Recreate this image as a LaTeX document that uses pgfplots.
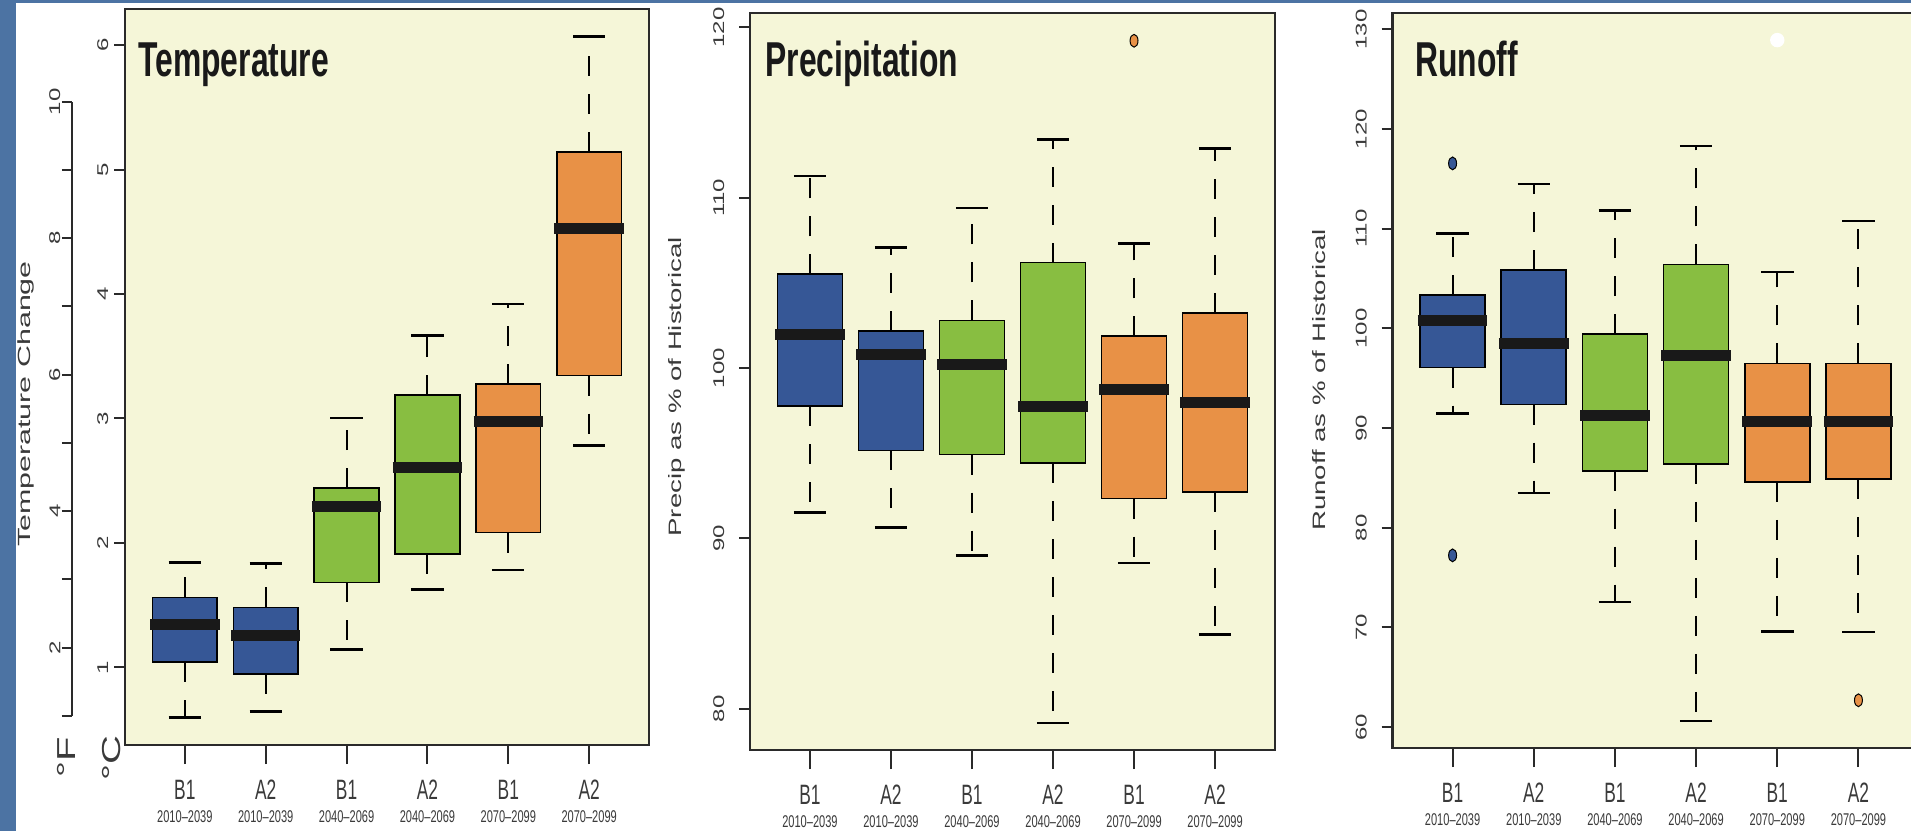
\documentclass[border=0pt]{standalone}
\usepackage{pgfplots}
\pgfplotsset{compat=1.18}
\usepgfplotslibrary{statistics}
\usepackage{fontspec}
\setmainfont{Liberation Sans}
\usepackage{graphicx}

\definecolor{bgblue}{HTML}{4C73A3}
\definecolor{panelbg}{HTML}{F5F6D8}
\definecolor{cblue}{HTML}{365796}
\definecolor{cgreen}{HTML}{88BE41}
\definecolor{corange}{HTML}{E89146}
\definecolor{labgray}{HTML}{3A3A3A}
\definecolor{framecol}{HTML}{2A2A2A}

\newcommand{\hx}[1]{\scalebox{0.65}[1]{#1}}
\newcommand{\vx}[1]{\scalebox{1}[0.65]{#1}}
\newcommand{\xl}[2]{\shortstack{\scalebox{0.62}[1]{\fontsize{14}{14}\selectfont #1}\\[2.5pt]\hx{\fontsize{8.5}{8.5}\selectfont #2}}}

\pgfplotsset{
  boxplot/draw direction=y,
  boxplot/draw/lower whisker/.code={%
    \draw[line width=1pt, black, dash pattern=on 10pt off 9pt]
      (boxplot cs:\pgfplotsboxplotvalue{lower quartile}) -- (boxplot cs:\pgfplotsboxplotvalue{lower whisker});
    \draw[line width=1.3pt, black, solid]
      (boxplot whisker cs:\pgfplotsboxplotvalue{lower whisker},0) -- (boxplot whisker cs:\pgfplotsboxplotvalue{lower whisker},1);
  },
  boxplot/draw/upper whisker/.code={%
    \draw[line width=1pt, black, dash pattern=on 10pt off 9pt]
      (boxplot cs:\pgfplotsboxplotvalue{upper quartile}) -- (boxplot cs:\pgfplotsboxplotvalue{upper whisker});
    \draw[line width=1.3pt, black, solid]
      (boxplot whisker cs:\pgfplotsboxplotvalue{upper whisker},0) -- (boxplot whisker cs:\pgfplotsboxplotvalue{upper whisker},1);
  },
  boxplot/every median/.style={line width=5.5pt, draw=black!90, solid, shorten <=-1.2pt, shorten >=-1.2pt},
  bstyle/.style={draw=black, solid, line width=0.8pt, mark=*, mark size=3.2pt,
    boxplot/draw direction=y,
    boxplot/every box/.append style={fill=#1, draw=black, line width=0.8pt},
    mark options={fill=#1, draw=black, line width=0.5pt, xscale=0.62, solid}},
  panel/.style={
    scale only axis, anchor=south west,
    axis background/.style={fill=panelbg},
    axis line style={line width=1.2pt, draw=framecol},
    xmin=0.26, xmax=6.74, xtick={1,...,6},
    xticklabels={{\xl{B1}{2010--2039}},{\xl{A2}{2010--2039}},{\xl{B1}{2040--2069}},{\xl{A2}{2040--2069}},{\xl{B1}{2070--2099}},{\xl{A2}{2070--2099}}},
    tick pos=left, tick align=outside,
    major tick length=5.5pt,
    xtick style={line width=1pt, draw=framecol, /pgfplots/major tick length=9.5pt},
    ytick style={line width=1pt, draw=framecol},
    xticklabel style={anchor=north, inner sep=0pt, text=labgray},
    xticklabel shift=12pt,
    /pgf/number format/assume math mode=true,
    yticklabel={\vx{\pgfmathprintnumber{\tick}}},
    yticklabel style={rotate=90, anchor=south, inner sep=0pt, text=labgray, font=\fontsize{12}{12}\selectfont},
  }
}

\begin{document}
\begin{tikzpicture}
\useasboundingbox (0,0) rectangle (955.5pt,415.5pt);
\fill[bgblue] (0,0) rectangle (955.5pt,415.5pt);
\fill[white] (8pt,0) rectangle (955.5pt,414pt);

% degrees F axis
\begin{axis}[
  at={(36pt,57.5pt)}, anchor=south west, scale only axis,
  width=5pt, height=307.15pt,
  xmin=0, xmax=1, ymin=1, ymax=10,
  axis x line=none, axis y line*=left,
  axis line style={line width=1pt, draw=framecol},
  ytick={1,...,10},
  yticklabels={,\vx{2},,\vx{4},,\vx{6},,\vx{8},,\vx{10}},
  tick align=outside, major tick length=5pt,
  ytick style={line width=1pt, draw=framecol},
  yticklabel style={rotate=90, anchor=south, inner sep=0pt, text=labgray, font=\fontsize{12}{12}\selectfont},
  yticklabel shift=0.6pt,
]
\end{axis}

% Temperature
\begin{axis}[panel, at={(62.5pt,43pt)}, width=262pt, height=368pt,
  ymin=0.376, ymax=6.291, ytick={1,...,6}, yticklabel shift=2.7pt]
\addplot[bstyle=cblue, boxplot prepared={draw position=1, lower whisker=0.595, lower quartile=1.043, median=1.341, upper quartile=1.563, upper whisker=1.844, box extend=0.8, whisker extend=0.4}] coordinates {};
\addplot[bstyle=cblue, boxplot prepared={draw position=2, lower whisker=0.646, lower quartile=0.949, median=1.256, upper quartile=1.482, upper whisker=1.835, box extend=0.8, whisker extend=0.4}] coordinates {};
\addplot[bstyle=cgreen, boxplot prepared={draw position=3, lower whisker=1.145, lower quartile=1.682, median=2.296, upper quartile=2.441, upper whisker=3.003, box extend=0.8, whisker extend=0.4}] coordinates {};
\addplot[bstyle=cgreen, boxplot prepared={draw position=4, lower whisker=1.627, lower quartile=1.912, median=2.607, upper quartile=3.187, upper whisker=3.668, box extend=0.8, whisker extend=0.4}] coordinates {};
\addplot[bstyle=corange, boxplot prepared={draw position=5, lower whisker=1.784, lower quartile=2.083, median=2.974, upper quartile=3.276, upper whisker=3.920, box extend=0.8, whisker extend=0.4}] coordinates {};
\addplot[bstyle=corange, boxplot prepared={draw position=6, lower whisker=2.782, lower quartile=3.344, median=4.525, upper quartile=5.143, upper whisker=6.072, box extend=0.8, whisker extend=0.4}] coordinates {};
\end{axis}

% Precipitation
\begin{axis}[panel, at={(375pt,40.5pt)}, width=262.5pt, height=368.5pt,
  ymin=77.58, ymax=120.85, ytick={80,90,...,120}, yticklabel shift=7.2pt]
\addplot[bstyle=cblue, boxplot prepared={draw position=1, lower whisker=91.53, lower quartile=97.76, median=101.96, upper quartile=105.51, upper whisker=111.28, box extend=0.8, whisker extend=0.4}] coordinates {};
\addplot[bstyle=cblue, boxplot prepared={draw position=2, lower whisker=90.65, lower quartile=95.17, median=100.81, upper quartile=102.18, upper whisker=107.07, box extend=0.8, whisker extend=0.4}] coordinates {};
\addplot[bstyle=cgreen, boxplot prepared={draw position=3, lower whisker=89.00, lower quartile=94.92, median=100.22, upper quartile=102.80, upper whisker=109.41, box extend=0.8, whisker extend=0.4}] coordinates {};
\addplot[bstyle=cgreen, boxplot prepared={draw position=4, lower whisker=79.16, lower quartile=94.42, median=97.76, upper quartile=106.20, upper whisker=113.43, box extend=0.8, whisker extend=0.4}] coordinates {};
\addplot[bstyle=corange, boxplot prepared={draw position=5, lower whisker=88.57, lower quartile=92.34, median=98.72, upper quartile=101.87, upper whisker=107.32, box extend=0.8, whisker extend=0.4}] coordinates {(0,119.22)};
\addplot[bstyle=corange, boxplot prepared={draw position=6, lower whisker=84.36, lower quartile=92.74, median=97.98, upper quartile=103.24, upper whisker=112.90, box extend=0.8, whisker extend=0.4}] coordinates {};
\end{axis}

% Runoff
\begin{axis}[panel, at={(696.25pt,41.5pt)}, width=263pt, height=367.5pt,
  ymin=57.9, ymax=131.65, ytick={60,70,...,130}, yticklabel shift=7.2pt]
\addplot[bstyle=cblue, boxplot prepared={draw position=1, lower whisker=91.45, lower quartile=96.07, median=100.80, upper quartile=103.34, upper whisker=109.55, box extend=0.8, whisker extend=0.4}] coordinates {(0,116.56) (0,77.23)};
\addplot[bstyle=cblue, boxplot prepared={draw position=2, lower whisker=83.49, lower quartile=92.36, median=98.46, upper quartile=105.84, upper whisker=114.49, box extend=0.8, whisker extend=0.4}] coordinates {};
\addplot[bstyle=cgreen, boxplot prepared={draw position=3, lower whisker=72.56, lower quartile=85.72, median=91.24, upper quartile=99.42, upper whisker=111.84, box extend=0.8, whisker extend=0.4}] coordinates {};
\addplot[bstyle=cgreen, boxplot prepared={draw position=4, lower whisker=60.62, lower quartile=86.41, median=97.24, upper quartile=106.42, upper whisker=118.31, box extend=0.8, whisker extend=0.4}] coordinates {};
\addplot[bstyle=corange, boxplot prepared={draw position=5, lower whisker=69.59, lower quartile=84.61, median=90.66, upper quartile=96.50, upper whisker=105.68, box extend=0.8, whisker extend=0.4}, mark options={fill=white, draw=white}] coordinates {(0,128.93)};
\addplot[bstyle=corange, boxplot prepared={draw position=6, lower whisker=69.53, lower quartile=84.87, median=90.66, upper quartile=96.50, upper whisker=110.77, box extend=0.8, whisker extend=0.4}] coordinates {(0,62.69)};
\end{axis}

% titles
\node[anchor=base west, inner sep=0pt, text=black!90] at (69pt,377pt) {\fontsize{24.5}{24.5}\selectfont\bfseries\hx{Temperature}};
\node[anchor=base west, inner sep=0pt, text=black!90] at (382.5pt,377pt) {\fontsize{24.5}{24.5}\selectfont\bfseries\hx{Precipitation}};
\node[anchor=base west, inner sep=0pt, text=black!90] at (707.5pt,377pt) {\fontsize{24.5}{24.5}\selectfont\bfseries\hx{Runoff}};

% axis labels
\node[rotate=90, inner sep=0pt, text=labgray] at (12.8pt,213.5pt) {\fontsize{15.2}{15.2}\selectfont\scalebox{1}[0.58]{Temperature Change}};
\node[rotate=90, inner sep=0pt, text=labgray] at (338.5pt,222pt) {\fontsize{13.8}{13.8}\selectfont\vx{Precip as \% of Historical}};
\node[rotate=90, inner sep=0pt, text=labgray] at (659.5pt,225.5pt) {\fontsize{13.8}{13.8}\selectfont\vx{Runoff as \% of Historical}};
\node[rotate=90, inner sep=0pt, text=labgray] at (33pt,37pt) {\fontsize{20}{20}\selectfont\vx{°F}};
\node[rotate=90, inner sep=0pt, text=labgray] at (55.75pt,36.5pt) {\fontsize{20}{20}\selectfont\vx{°C}};
\end{tikzpicture}
\end{document}
